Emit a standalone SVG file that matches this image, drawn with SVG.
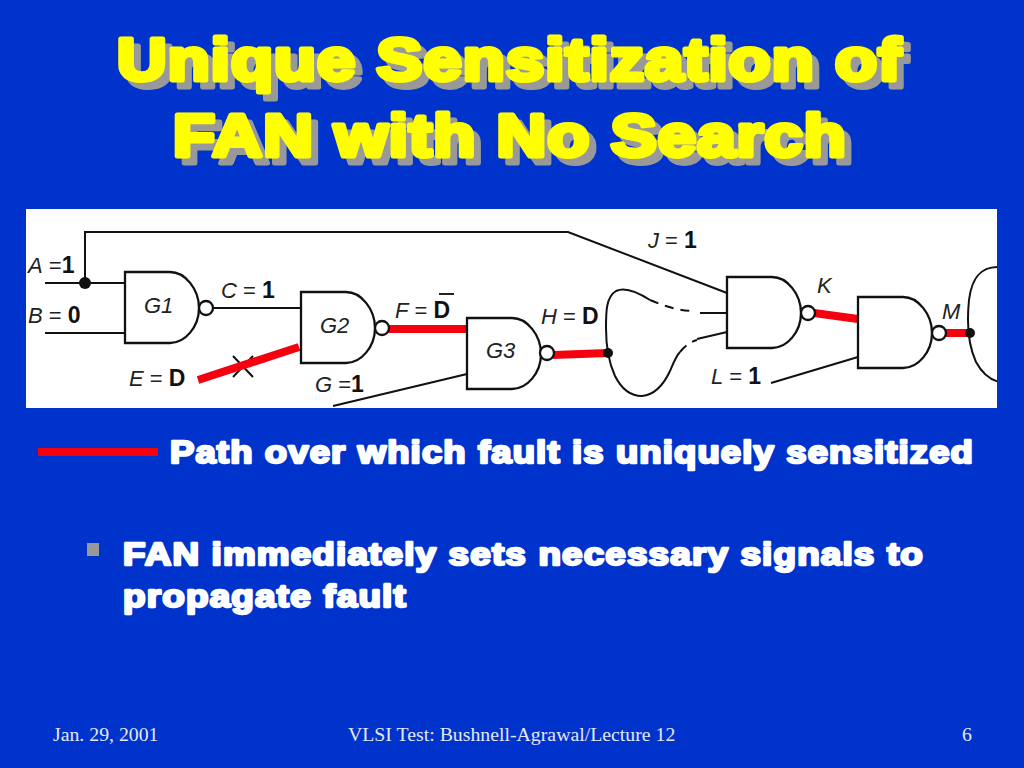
<svg xmlns="http://www.w3.org/2000/svg" width="1024" height="768" viewBox="0 0 1024 768">
<style>
.t{font-family:"Liberation Sans",Arial,sans-serif;font-weight:bold;font-size:60px;letter-spacing:1px;stroke-width:5px;stroke-linejoin:round}
.ts{fill:#999;stroke:#999}
.tf{fill:#ff0;stroke:#ff0}
.b{font-family:"Liberation Sans",Arial,sans-serif;font-weight:bold;font-size:31px;letter-spacing:1px;fill:#fff;stroke:#fff;stroke-width:2.4px;stroke-linejoin:round}
.f{font-family:"Liberation Serif","Times New Roman",serif;font-size:19.8px;fill:#e4e8f4}
.g{fill:#fff;stroke:#111;stroke-width:2.3}
.w{fill:none;stroke:#111;stroke-width:2}
.d{stroke-dasharray:9 7}
.r{fill:none;stroke:#f5000f;stroke-width:8}
.l{font-family:"Liberation Sans",Arial,sans-serif;font-size:22px;fill:#222}
.i{font-style:italic}
.o{font-weight:bold;fill:#111;font-size:23px}
.dot{fill:#111}
</style>
<defs>
<path id="nand" d="M0 0H45C60 0 74 17 74 36C74 55 60 71 45 71H0Z"/>
<clipPath id="panel"><rect x="26" y="209" width="971" height="199"/></clipPath>
</defs>
<rect width="1024" height="768" fill="#0033cc"/>
<g id="title">
<text class="t ts" x="124" y="87" textLength="785" lengthAdjust="spacingAndGlyphs">Unique Sensitization of</text>
<text class="t ts" x="180" y="163" textLength="674" lengthAdjust="spacingAndGlyphs">FAN with No Search</text>
<text class="t tf" x="117" y="80" textLength="785" lengthAdjust="spacingAndGlyphs">Unique Sensitization of</text>
<text class="t tf" x="173" y="156" textLength="674" lengthAdjust="spacingAndGlyphs">FAN with No Search</text>
</g>
<rect id="panel-bg" x="26" y="209" width="971" height="199" fill="#fff"/>
<g id="connectors" clip-path="url(#panel)">
<path class="w" d="M45 283H125"/>
<path class="w" d="M85 283V232H568L727 293"/>
<path class="w" d="M45 333H125"/>
<path class="w" d="M213 308H301"/>
<path class="w" d="M233 356L253 377M233 377L253 356"/>
<path class="w" d="M333 406L467 374"/>
<path class="w" d="M650 300C636 291 624 287 616 291C606 297 606 312 606 328C606 345 609 363 615 376C622 390 632 396 642 396C653 395 663 386 670 371C673 364 676 356 680 352"/>
<path class="w d" d="M650 300C664 306 676 310 692 311"/>
<path class="w d" d="M680 352C685 346 690 342 697 340"/>
<path class="w" d="M700 313H727M697 339L727 332"/>
<path class="w" d="M771 383L858 357"/>
<path class="w" d="M1000 267C982 266 972 276 969 300C967 320 968 345 976 362C982 373 990 380 1000 382"/>
<path class="r" d="M198 380L299 347"/>
<path class="r" d="M388 329H467"/>
<path class="r" d="M553 355L608 353"/>
<path class="r" d="M814 313L858 319"/>
<path class="r" d="M945 333H970"/>
<circle class="dot" cx="85" cy="283" r="6"/>
<circle class="dot" cx="608" cy="353" r="5"/>
<circle class="dot" cx="970" cy="333" r="5"/>
</g>
<g id="G1"><use href="#nand" class="g" x="125" y="272"/><circle class="g" cx="206" cy="308" r="7"/><text class="l i" x="144" y="313">G1</text></g>
<g id="G2"><use href="#nand" class="g" x="301" y="292"/><circle class="g" cx="382" cy="328" r="7"/><text class="l i" x="320" y="333">G2</text></g>
<g id="G3"><use href="#nand" class="g" x="467" y="318"/><circle class="g" cx="547" cy="353" r="7"/><text class="l i" x="486" y="358">G3</text></g>
<g id="G4"><use href="#nand" class="g" x="727" y="277"/><circle class="g" cx="808" cy="313" r="7"/></g>
<g id="G5"><use href="#nand" class="g" x="858" y="297"/><circle class="g" cx="939" cy="333" r="7"/></g>
<g id="signal-labels">
<text class="l" x="28" y="273"><tspan class="i">A</tspan> =<tspan class="o">1</tspan></text>
<text class="l" x="28" y="323"><tspan class="i">B</tspan> = <tspan class="o">0</tspan></text>
<text class="l" x="221" y="298"><tspan class="i">C</tspan> = <tspan class="o">1</tspan></text>
<text class="l" x="129" y="386"><tspan class="i">E</tspan> = <tspan class="o">D</tspan></text>
<text class="l" x="315" y="392"><tspan class="i">G</tspan> =<tspan class="o">1</tspan></text>
<text class="l" x="395" y="318"><tspan class="i">F</tspan> = <tspan class="o">D</tspan></text>
<path d="M439 294H454" stroke="#222" stroke-width="2"/>
<text class="l" x="541" y="324"><tspan class="i">H</tspan> = <tspan class="o">D</tspan></text>
<text class="l" x="648" y="248"><tspan class="i">J</tspan> = <tspan class="o">1</tspan></text>
<text class="l i" x="817" y="293">K</text>
<text class="l i" x="942" y="319">M</text>
<text class="l" x="711" y="384"><tspan class="i">L</tspan> = <tspan class="o">1</tspan></text>
</g>
<g id="legend">
<rect x="38" y="448" width="120" height="8" fill="#f5000f"/>
<text class="b" x="170" y="463" textLength="804" lengthAdjust="spacingAndGlyphs">Path over which fault is uniquely sensitized</text>
</g>
<g id="bullet">
<rect x="87" y="543" width="12" height="13" fill="#999"/>
<text class="b" x="123" y="565" textLength="801" lengthAdjust="spacingAndGlyphs">FAN immediately sets necessary signals to</text>
<text class="b" x="123" y="607" textLength="284" lengthAdjust="spacingAndGlyphs">propagate fault</text>
</g>
<g id="footer">
<text class="f" x="53" y="741">Jan. 29, 2001</text>
<text class="f" x="348" y="741">VLSI Test: Bushnell-Agrawal/Lecture 12</text>
<text class="f" x="962" y="741">6</text>
</g>
</svg>
